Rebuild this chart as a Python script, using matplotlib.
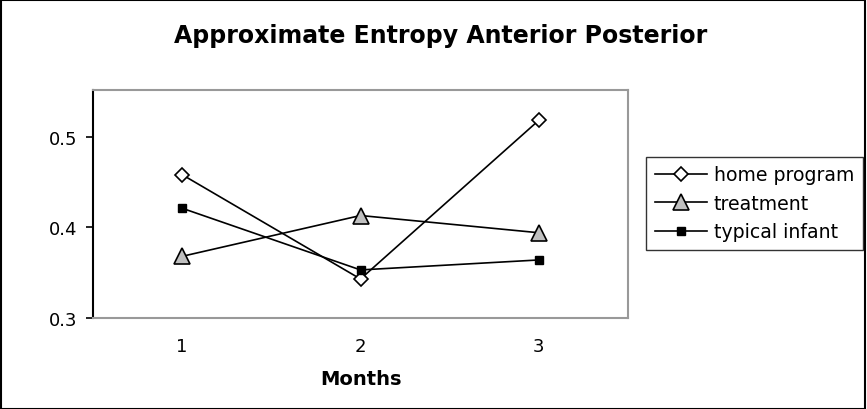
import matplotlib
matplotlib.use("Agg")
import matplotlib.pyplot as plt
from matplotlib.patches import Rectangle

months = ["1", "2", "3"]
home_program = [0.458, 0.343, 0.518]
treatment = [0.368, 0.413, 0.394]
typical_infant = [0.421, 0.353, 0.364]
y_ticks = [0.3, 0.4, 0.5]

plt.rcParams['font.family'] = ['DejaVu Sans']

fig = plt.figure(figsize=(8.67, 4.10), dpi=100)
ax = fig.add_axes([93/867, 1-319/410, (628-93)/867, (319-91)/410])

x = list(range(1, len(months) + 1))
ax.plot(x, home_program, color='black', lw=1.2, marker='D', markersize=7,
        markerfacecolor='white', markeredgecolor='black', markeredgewidth=1.2,
        label='home program', zorder=3)
ax.plot(x, treatment, color='black', lw=1.2, marker='^', markersize=12,
        markerfacecolor='#c0c0c0', markeredgecolor='black', markeredgewidth=1.2,
        label='treatment', zorder=3)
ax.plot(x, typical_infant, color='black', lw=1.2, marker='s', markersize=6,
        markerfacecolor='black', markeredgecolor='black',
        label='typical infant', zorder=3)

ax.set_xlim(0.5, 3.5)
ax.set_ylim(0.3, 0.3 + (319-91)/907)
ax.set_xticks(x)
ax.set_xticklabels(months, fontsize=13)
ax.set_yticks(y_ticks)
ax.set_yticklabels([f"{v:.1f}" for v in y_ticks], fontsize=13)
ax.tick_params(axis='x', length=0, pad=14)
ax.tick_params(axis='y', length=5, width=1.2, direction='out', pad=6)

for s in ['top', 'right', 'bottom']:
    ax.spines[s].set_color('#999999')
    ax.spines[s].set_linewidth(1.5)
ax.spines['left'].set_color('black')
ax.spines['left'].set_linewidth(1.5)

ax.set_xlabel("Months", fontsize=14, fontweight='bold', labelpad=10)
fig.text(441/867, 1-36/410, "Approximate Entropy Anterior Posterior",
         ha='center', va='center', fontsize=17, fontweight='bold')

leg = fig.legend(loc='upper left', bbox_to_anchor=(646/867, 1-158/410),
                 frameon=True, fancybox=False, fontsize=13.6,
                 handlelength=2.8, handletextpad=0.35, borderpad=0.45,
                 labelspacing=0.5, borderaxespad=0)
leg.get_frame().set_edgecolor('black')
leg.get_frame().set_linewidth(1.0)

fig.patches.append(Rectangle((0.001, 0.001), 0.997, 0.997, transform=fig.transFigure,
                             fill=False, edgecolor='black', lw=1.5))

fig.savefig("out.png", dpi=100)
